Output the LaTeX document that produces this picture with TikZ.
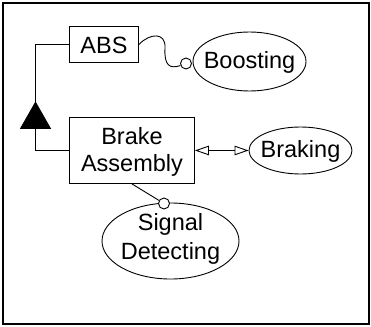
\documentclass[tikz,border=0pt]{standalone}
\usepackage{fontspec}
\setmainfont{Liberation Sans}
\usetikzlibrary{arrows.meta,shapes.geometric}
\begin{document}
\begin{tikzpicture}[x=1pt,y=-1pt,
  every node/.style={font=\fontsize{23.5}{27}\selectfont},
  conn/.style={line width=0.9pt},
  box/.style={draw,line width=0.9pt,inner sep=0pt,anchor=north west},
  ell/.style={draw,line width=0.9pt,ellipse,inner sep=0pt},
  port/.style={draw,circle,line width=0.9pt,fill=white,inner sep=0pt,minimum size=11pt},
  lbl/.style={align=center,inner sep=0pt}
]
\useasboundingbox (0,0) rectangle (371,326);
\draw[line width=2.7pt] (3,3) rectangle (369,324);
% boxes
\node[box,minimum width=69pt,minimum height=36pt] (abs) at (69,26) {};
\node[lbl] at ([yshift=-1pt]abs.center) {ABS};
\node[box,minimum width=125pt,minimum height=66pt] (bab) at (69,117) {};
\node[lbl,font=\fontsize{23.5}{27}\selectfont] at ([yshift=-1pt]bab.center) {Brake\\Assembly};
% ellipses
\node[ell,minimum width=113pt,minimum height=59pt] (boo) at (249.5,61.5) {};
\node[lbl] at ([yshift=-1pt]boo.center) {Boosting};
\node[ell,minimum width=103pt,minimum height=47pt] (brk) at (300.5,150.5) {};
\node[lbl] at ([yshift=-1pt]brk.center) {Braking};
\node[ell,minimum width=137pt,minimum height=76pt] (sig) at (170.5,241) {};
\node[lbl,font=\fontsize{23.5}{29.5}\selectfont] at ([yshift=2pt]sig.center) {Signal\\Detecting};
% generalization
\draw[conn] (abs.west) -- ++(-33.5,0) |- (bab.west);
\filldraw[line width=0.9pt] (20.7,128.3) -- (50.3,128.3) -- (35.5,102.3) -- cycle;
% braking
\draw[conn,{Triangle[open,length=14pt,width=9.5pt]}-{Triangle[open,length=14pt,width=9.5pt]}] (bab.east) -- (brk.west);
% signal
\node[port] (c2) at (164,203.5) {};
\draw[conn] (bab.south) -- (c2);
% boosting
\node[port] (c1) at (186,63.5) {};
\draw[conn] (abs.east) .. controls (150,33) and (166,32) .. (165,48) .. controls (164,66) and (170,69) .. (c1.200);
\end{tikzpicture}
\end{document}
